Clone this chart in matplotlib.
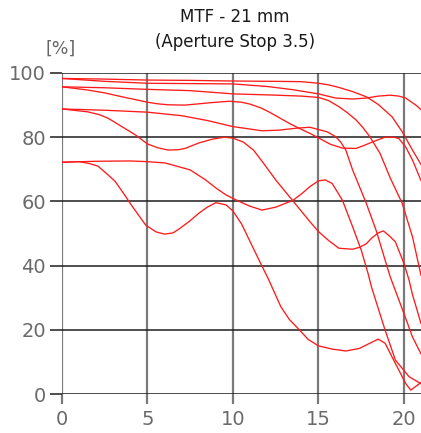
import numpy as np
import matplotlib
matplotlib.use('Agg')
import matplotlib.pyplot as plt

# MTF curves: image height [mm] vs contrast [%]
# 5 lp/mm
s5_x = [0, 2.5, 5, 7.5, 10, 12.5, 14, 15, 15.6, 16.2, 17, 17.8, 18.5, 19.3, 19.9, 20.5, 21]
s5_y = [98.3, 98.1, 97.8, 97.7, 97.5, 97.4, 97.3, 96.8, 96.3, 95.5, 94.2, 92.6, 90.2, 86.4, 81.7, 76.0, 71.5]
t5_x = [0, 2.5, 5, 7.5, 10, 12, 13.5, 15, 16, 17, 17.8, 18.5, 19.2, 19.7, 20.1, 20.4, 20.7, 21]
t5_y = [98.3, 97.4, 96.8, 96.7, 96.6, 95.8, 94.8, 93.5, 92.2, 91.9, 92.2, 92.8, 93.1, 92.8, 92.2, 91.1, 90.0, 88.6]
# 10 lp/mm
s10_x = [0, 2.5, 5, 7.5, 10, 12.5, 14, 15, 15.6, 16.2, 16.7, 17.2, 17.6, 18, 18.6, 19.2, 19.9, 20.5, 21]
s10_y = [95.7, 95.4, 94.9, 94.5, 93.5, 93.1, 92.8, 92.4, 91.4, 89.5, 87.6, 85.4, 83.0, 80.2, 75.0, 67.3, 59.4, 49.0, 37.0]
t10_x = [0, 1.5, 2.5, 3.5, 4.3, 5, 5.6, 6.2, 7.2, 8, 8.8, 9.8, 10.5, 11, 11.6, 12.1, 12.7, 13.3, 13.9, 14.5, 15, 15.7,
         16.4, 17.2, 17.7, 18.2, 18.9, 19.4, 19.7, 20.1, 20.5, 21]
t10_y = [95.7, 94.7, 93.8, 92.6, 91.7, 90.9, 90.4, 90.1, 90.0, 90.4, 90.8, 91.2, 90.9, 90.3, 89.2, 87.9, 86.1, 84.3, 82.7,
         81.2, 79.8, 77.8, 76.6, 76.5, 77.5, 78.6, 80.0, 80.0, 79.6, 77.0, 72.9, 66.5]
# 20 lp/mm
s20_x = [0, 2.5, 5, 7, 8.5, 10, 11.7, 12.7, 13.7, 14.5, 15, 15.5, 16.0, 16.3, 16.6, 17, 17.8, 18.4, 18.9, 19.2, 20, 20.5, 21]
s20_y = [88.8, 88.4, 87.8, 86.7, 85.2, 83.3, 82.0, 82.2, 82.8, 83.1, 82.4, 81.7, 80.2, 78.5, 76.0, 69.8, 59.4, 50.6, 41.7, 36.5, 25.1, 17.8, 12.5]
t20_x = [0, 1.5, 2.2, 2.7, 3.5, 4.3, 5, 5.6, 6.2, 6.8, 7.2, 8, 8.8, 9.5, 10, 10.6, 11.2, 11.8, 12.5, 13.5, 14.5, 15,
         15.6, 16.2, 17, 17.4, 17.8, 18.1, 18.5, 18.8, 19.1, 19.5, 20, 20.3, 20.5, 21]
t20_y = [88.8, 87.9, 87.0, 85.9, 83.3, 80.7, 77.9, 76.7, 76.0, 76.1, 76.5, 78.2, 79.4, 80.0, 79.7, 78.5, 76.0, 71.8, 66.7,
         60.2, 53.7, 50.6, 47.8, 45.4, 45.1, 45.7, 46.8, 48.5, 50.2, 50.8, 49.5, 47.4, 40.7, 35.5, 31.0, 22.0]
# 40 lp/mm
s40_x = [0, 2, 4, 4.9, 6, 6.5, 7.5, 8.4, 9.0, 9.6, 10.4, 11, 11.7, 12.5, 13.5, 14.0, 14.5, 15.0, 15.4, 15.8, 16.4, 17,
         17.5, 17.9, 18.1, 18.9, 19.5, 20.3, 21]
s40_y = [72.2, 72.5, 72.6, 72.4, 72.0, 71.3, 69.8, 66.7, 64.2, 62.0, 59.9, 58.5, 57.3, 58.2, 60.3, 62.3, 64.6, 66.4, 66.7,
         65.6, 60.4, 52.1, 44.9, 37.6, 33.4, 19.9, 10.6, 5.4, 3.2]
t40_x = [0, 1, 1.6, 2.1, 2.6, 3.1, 3.6, 4.0, 4.4, 4.9, 5.5, 6, 6.5, 6.9, 7.5, 8, 8.5, 9, 9.6, 10, 10.5, 11, 11.5, 12.1,
         12.8, 13.3, 13.9, 14.4, 15, 15.8, 16.6, 17.4, 18.0, 18.5, 18.9, 19.3, 19.7, 20.1, 20.4, 21]
t40_y = [72.2, 72.4, 71.8, 71.0, 68.7, 66.3, 62.5, 59.3, 56.3, 52.6, 50.5, 49.8, 50.2, 51.6, 54.0, 56.3, 58.2, 59.6, 58.9,
         57.0, 53.0, 47.5, 42.0, 35.5, 27.2, 23.2, 19.9, 17.0, 15.0, 14.0, 13.4, 14.2, 15.8, 17.1, 15.8, 11.6, 7.5, 3.3, 1.2, 3.6]

curves = [(s5_x, s5_y), (t5_x, t5_y), (s10_x, s10_y), (t10_x, t10_y),
          (s20_x, s20_y), (t20_x, t20_y), (s40_x, s40_y), (t40_x, t40_y)]

x_ticks = [0, 5, 10, 15, 20]
y_ticks = [0, 20, 40, 60, 80, 100]

fig = plt.figure(figsize=(4.21, 4.33), dpi=100)
ax = fig.add_axes([62 / 421, 39 / 433, 1 - 62 / 421, 321 / 433])

for cx, cy in curves:
    ax.plot(cx, cy, color='#ff1a1a', lw=0.95, zorder=3, solid_joinstyle='round')

ax.set_xlim(0, 21)
ax.set_ylim(0, 100)
ax.set_xticks(x_ticks)
ax.set_yticks(y_ticks)
for s in ax.spines.values():
    s.set_visible(False)

ax.xaxis.grid(True, color='#7a7a7a', lw=1.6)
ax.yaxis.grid(True, color='#1e1e1e', lw=1.1)
ax.set_axisbelow(True)

ax.tick_params(axis='x', length=7.5, width=1.6, color='#7a7a7a', pad=4,
               labelcolor='#6a6a6a', labelsize=14)
ax.tick_params(axis='y', length=8.5, width=1.1, color='#1e1e1e', pad=3,
               labelcolor='#6a6a6a', labelsize=14)

fig.text(235 / 421, 1 - 17 / 433, 'MTF - 21 mm', ha='center', va='center',
         fontsize=12, color='#1a1a1a')
fig.text(235 / 421, 1 - 42 / 433, '(Aperture Stop 3.5)', ha='center', va='center',
         fontsize=12, color='#1a1a1a')
fig.text(61 / 421, 1 - 49 / 433, '[%]', ha='center', va='center',
         fontsize=12.5, color='#666666')

fig.savefig('out.png', dpi=100)
